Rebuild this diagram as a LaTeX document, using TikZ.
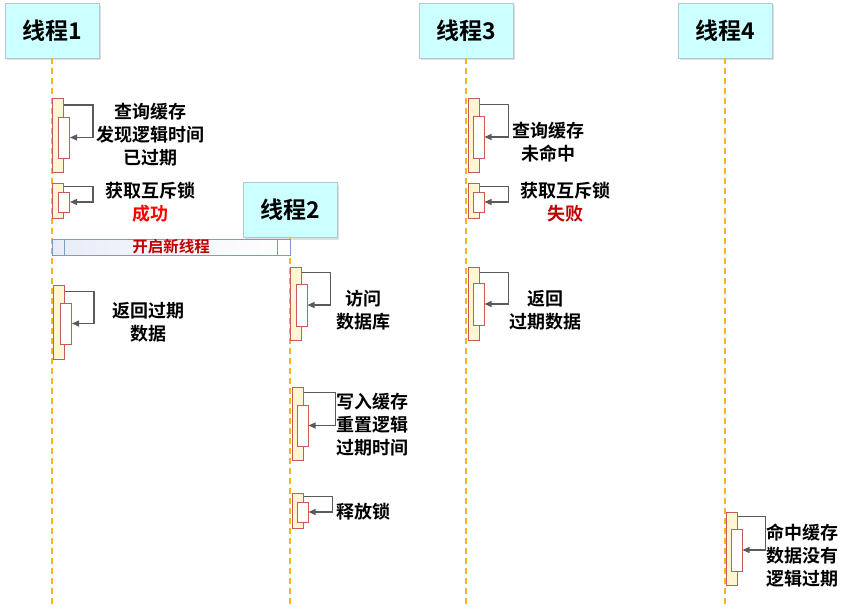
\documentclass[tikz,border=0pt]{standalone}
\usepackage{fontspec}
\setmainfont{Noto Sans CJK SC}[BoldFont={Noto Sans CJK SC Bold}]
\usetikzlibrary{arrows.meta,shadows}
\definecolor{lifeC}{RGB}{250,180,30}
\definecolor{actB}{RGB}{200,90,88}
\definecolor{actF}{RGB}{255,247,212}
\definecolor{hdrF}{RGB}{204,255,255}
\definecolor{hdrB}{RGB}{180,200,204}
\definecolor{arrC}{RGB}{90,90,90}
\definecolor{barB}{RGB}{125,155,195}
\definecolor{barF}{RGB}{232,236,248}
\definecolor{darkred}{RGB}{192,0,0}
\tikzset{
  hdr/.style={draw=hdrB, line width=0.8pt, fill=hdrF, minimum width=94pt, minimum height=55pt,
    font=\bfseries\fontsize{23}{26}\selectfont, inner sep=0pt,
    drop shadow={opacity=0.25, shadow xshift=2pt, shadow yshift=-2pt}},
  life/.style={draw=lifeC, line width=1.4pt, dash pattern=on 6pt off 4pt},
  outerbox/.style={draw=actB, fill=actF, line width=1pt, minimum width=11pt, inner sep=0pt},
  innerbox/.style={draw=actB, fill=white, line width=1pt, minimum width=11pt, inner sep=0pt},
  selfarr/.style={draw=arrC, line width=1.2pt, -{Triangle[length=7pt,width=6pt]}},
  txt/.style={font=\bfseries\fontsize{18}{23}\selectfont, inner sep=0pt, align=center},
  txtl/.style={font=\bfseries\fontsize{18}{23}\selectfont, inner sep=0pt, align=left, anchor=west},
}
\begin{document}
\begin{tikzpicture}[x=1pt,y=-1pt]
\useasboundingbox (0,0) rectangle (850,607);
% headers
\node[hdr] (h1) at (52,30.5) {线程1};
\node[hdr] (h3) at (466,30.5) {线程3};
\node[hdr] (h4) at (725,30.5) {线程4};
\node[hdr] (h2) at (290,210) {线程2};
% lifelines
\coordinate (e1) at (52,605);
\coordinate (e2) at (290,605);
\coordinate (e3) at (466,605);
\coordinate (e4) at (725,605);
\draw[life] (h1.south) -- (e1);
\draw[life] (h2.south) -- (e2);
\draw[life] (h3.south) -- (e3);
\draw[life] (h4.south) -- (e4);
% new-thread bar
\node[draw=barB, line width=0.8pt, left color=barF, right color=white, minimum width=238pt, minimum height=16pt, inner sep=0pt,
  font=\bfseries\fontsize{15.5}{16}\selectfont, text=darkred] (bar) at (171,247) {开启新线程};
\draw[barB, line width=0.8pt] (64,239) -- (64,255);
\draw[barB, line width=0.8pt] (277,239) -- (277,255);
% thread 1
\node[outerbox, minimum height=73pt] (a1o) at (58,135.5) {};
\node[innerbox, minimum height=41pt] (a1i) at (64,137.5) {};
\draw[selfarr] ([yshift=-6.5pt]a1o.north east) -- ++(29,0) |- (a1i.east);
\node[txt] (a1t) at (150,135) {查询缓存\\发现逻辑时间\\已过期};
\node[outerbox, minimum height=35pt] (a2o) at (58,200.5) {};
\node[innerbox, minimum height=20pt] (a2i) at (64,202) {};
\draw[selfarr] ([yshift=-4pt]a2o.north east) -- ++(29,0) |- (a2i.east);
\node[txt] (a2t) at (150,202) {获取互斥锁\\\textcolor{red}{成功}};
\node[outerbox, minimum height=74pt] (a3o) at (59,322) {};
\node[innerbox, minimum height=41pt] (a3i) at (66,323.5) {};
\draw[selfarr] ([yshift=-7pt]a3o.north east) -- ++(29,0) |- (a3i.east);
\node[txt] (a3t) at (148,322) {返回过期\\数据};
% thread 2
\node[outerbox, minimum height=73pt] (b1o) at (295.5,303.5) {};
\node[innerbox, minimum height=42pt] (b1i) at (301.5,305) {};
\draw[selfarr] ([yshift=-6pt]b1o.north east) -- ++(29,0) |- (b1i.east);
\node[txt] (b1t) at (363,310.5) {访问\\数据库};
\node[outerbox, minimum height=73pt] (b2o) at (297.5,423.5) {};
\node[innerbox, minimum height=41pt] (b2i) at (302.5,425.5) {};
\draw[selfarr] ([yshift=-6pt]b2o.north east) -- ++(32,0) |- (b2i.east);
\node[txtl] (b2t) at (336,424.5) {写入缓存\\重置逻辑\\过期时间};
\node[outerbox, minimum height=35pt] (b3o) at (297.5,510.5) {};
\node[innerbox, minimum height=20pt] (b3i) at (302.5,512) {};
\draw[selfarr] ([yshift=-4pt]b3o.north east) -- ++(29,0) |- (b3i.east);
\node[txtl] (b3t) at (336,512) {释放锁};
% thread 3
\node[outerbox, minimum height=73pt] (c1o) at (473.5,135.5) {};
\node[innerbox, minimum height=42pt] (c1i) at (478.5,137) {};
\draw[selfarr] ([yshift=-6pt]c1o.north east) -- ++(29,0) |- (c1i.east);
\node[txt] (c1t) at (548,142) {查询缓存\\未命中};
\node[outerbox, minimum height=35pt] (c2o) at (473.5,200.5) {};
\node[innerbox, minimum height=20pt] (c2i) at (478.5,202) {};
\draw[selfarr] ([yshift=-4pt]c2o.north east) -- ++(29,0) |- (c2i.east);
\node[txt] (c2t) at (565,202) {获取互斥锁\\\textcolor{darkred}{失败}};
\node[outerbox, minimum height=73pt] (c3o) at (473.5,303.5) {};
\node[innerbox, minimum height=42pt] (c3i) at (478.5,304) {};
\draw[selfarr] ([yshift=-6pt]c3o.north east) -- ++(29,0) |- (c3i.east);
\node[txt] (c3t) at (545,310.5) {返回\\过期数据};
% thread 4
\node[outerbox, minimum height=73pt] (d1o) at (731.5,548.5) {};
\node[innerbox, minimum height=42pt] (d1i) at (736.5,550) {};
\draw[selfarr] ([yshift=-5pt]d1o.north east) -- ++(28,0) |- (d1i.east);
\node[txtl] (d1t) at (766,555.5) {命中缓存\\数据没有\\逻辑过期};
\end{tikzpicture}
\end{document}
